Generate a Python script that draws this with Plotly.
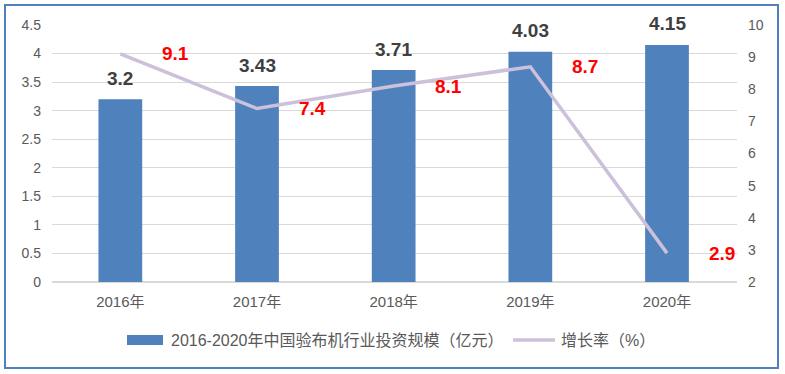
import plotly.graph_objects as go

categories = ["2016年", "2017年", "2018年", "2019年", "2020年"]
invest = [3.2, 3.43, 3.71, 4.03, 4.15]
growth = [9.1, 7.4, 8.1, 8.7, 2.9]
bar_name = "2016-2020年中国验布机行业投资规模（亿元）"
line_name = "增长率（%）"

FONT = "Liberation Sans, Noto Sans CJK SC, sans-serif"
BLUE = "#4F81BD"
LAV = "#CCC0DA"

L, R, T, B = 52, 48, 25, 92
W, H = 785, 374
PW, PH = W - L - R, H - T - B


def px(x):
    return (x - L) / PW


def py(y):
    return (H - B - y) / PH


fig = go.Figure()
fig.add_trace(go.Bar(
    x=categories, y=invest, name=bar_name,
    marker=dict(color=BLUE, line=dict(color=BLUE, width=0)),
))
fig.add_trace(go.Scatter(
    x=categories, y=growth, name=line_name, yaxis="y2", mode="lines",
    line=dict(color=LAV, width=3.5),
))
for c, v in zip(categories, invest):
    fig.add_annotation(x=c, y=v, yref="y", text=f"<b>{v}</b>", showarrow=False,
                       yanchor="middle", yshift=21,
                       font=dict(size=19, color="#404040", family=FONT))
for c, g in zip(categories, growth):
    fig.add_annotation(x=c, y=g, yref="y2", text=f"<b>{g}</b>", showarrow=False,
                       xshift=55, font=dict(size=19, color="#FF0000", family=FONT))

shapes = [
    dict(type="rect", xref="paper", yref="paper",
         x0=px(5), x1=px(778), y0=py(368), y1=py(5),
         line=dict(color=BLUE, width=2), layer="above"),
    dict(type="rect", xref="paper", yref="paper",
         x0=px(127), x1=px(163), y0=py(345), y1=py(335),
         fillcolor=BLUE, line=dict(width=0)),
    dict(type="line", xref="paper", yref="paper",
         x0=px(513), x1=px(555), y0=py(340), y1=py(340),
         line=dict(color=LAV, width=3.5)),
]
fig.add_annotation(xref="paper", yref="paper", x=px(169), y=py(340), xanchor="left",
                   yanchor="middle", text=bar_name, showarrow=False,
                   font=dict(size=16, color="#595959", family=FONT))
fig.add_annotation(xref="paper", yref="paper", x=px(559), y=py(340), xanchor="left",
                   yanchor="middle", text=line_name, showarrow=False,
                   font=dict(size=16, color="#595959", family=FONT))

fig.update_layout(
    width=W, height=H,
    margin=dict(l=L, r=R, t=T, b=B, autoexpand=False),
    paper_bgcolor="white", plot_bgcolor="white",
    font=dict(family=FONT, size=14, color="#595959"),
    bargap=0.68,
    showlegend=False,
    xaxis=dict(showgrid=False, showline=False, ticks="", tickfont=dict(size=15),
               automargin=False, ticklabelstandoff=9),
    yaxis=dict(range=[0, 4.5], dtick=0.5, showgrid=True, gridcolor="#D9D9D9", gridwidth=1,
               zeroline=True, zerolinecolor="#D9D9D9", showline=False, ticks="",
               tickfont=dict(size=14), ticklabelstandoff=10, automargin=False),
    yaxis2=dict(range=[2, 10], dtick=1, overlaying="y", side="right", showgrid=False,
                zeroline=False, showline=False, ticks="", tickfont=dict(size=14),
                ticklabelstandoff=10, automargin=False),
    shapes=shapes,
)

fig.write_html("out.html", config={"displayModeBar": False},
               post_script="document.body.style.margin='0';document.body.style.overflow='hidden';")
